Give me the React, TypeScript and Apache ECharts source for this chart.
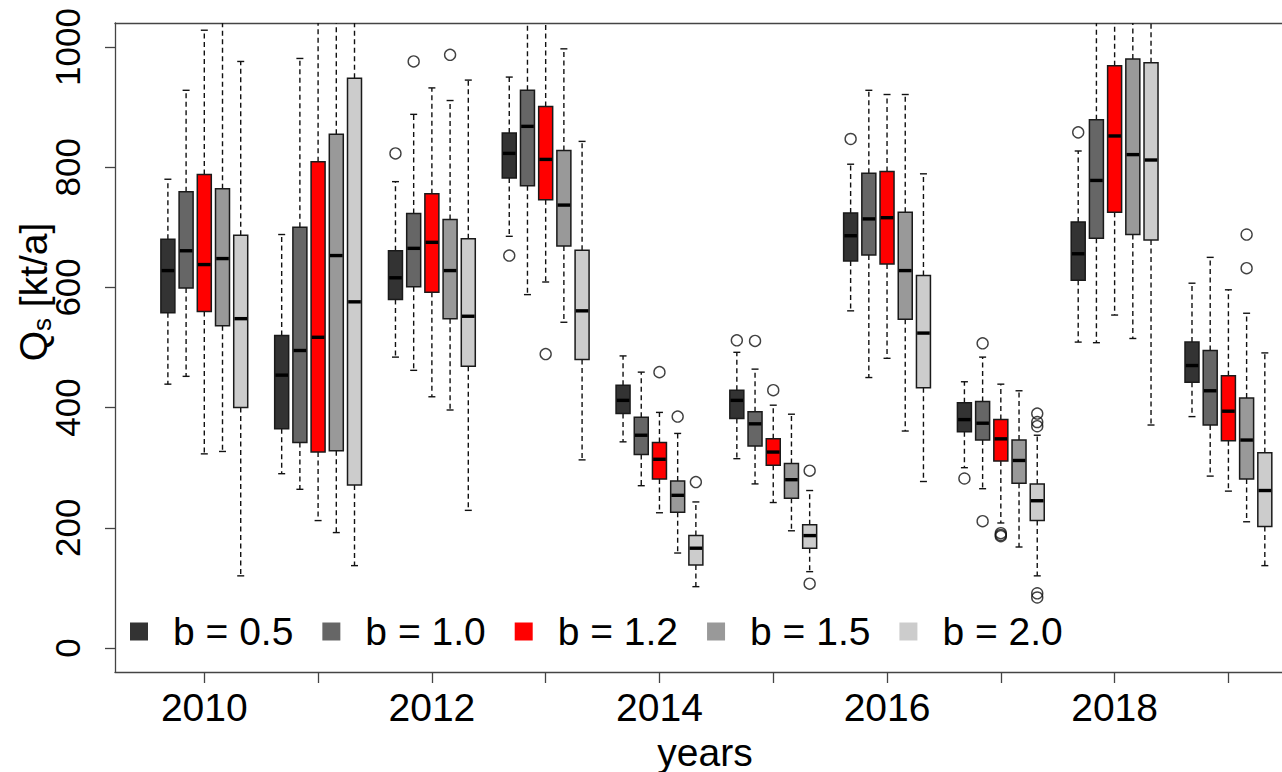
import React, { useEffect, useRef } from "react";
import * as echarts from "echarts";

// ---- data ----
const years = [2010, 2011, 2012, 2013, 2014, 2015, 2016, 2017, 2018, 2019];
const seriesNames = ["b = 0.5", "b = 1.0", "b = 1.2", "b = 1.5", "b = 2.0"];
const seriesColors = ["#333333", "#666666", "#ff0000", "#999999", "#cccccc"];

// per year: [lower whisker, Q1, median, Q3, upper whisker]
const statsB05 = [
  [439, 558, 628, 680, 780],
  [290, 365, 454, 520, 688],
  [484, 580, 616, 661, 776],
  [685, 782, 823, 857, 950],
  [343, 390, 412, 437, 486],
  [315, 382, 412, 429, 492],
  [561, 644, 686, 724, 805],
  [300, 360, 380, 408, 443],
  [509, 612, 656, 709, 827],
  [385, 442, 470, 509, 607],
];
const statsB10 = [
  [452, 599, 661, 759, 928],
  [264, 342, 495, 700, 981],
  [462, 601, 665, 723, 888],
  [588, 769, 868, 928, 1060],
  [270, 322, 354, 384, 459],
  [273, 336, 373, 393, 464],
  [450, 654, 714, 790, 928],
  [265, 346, 374, 410, 484],
  [508, 682, 778, 879, 1080],
  [286, 371, 428, 495, 650],
];
const statsB12 = [
  [323, 560, 638, 788, 1028],
  [212, 326, 517, 809, 1060],
  [418, 592, 675, 756, 932],
  [609, 746, 813, 901, 1070],
  [225, 281, 314, 342, 392],
  [242, 304, 326, 348, 404],
  [482, 639, 716, 793, 921],
  [208, 311, 348, 380, 439],
  [554, 725, 852, 969, 1120],
  [261, 345, 394, 453, 596],
];
const statsB15 = [
  [327, 536, 648, 764, 1090],
  [192, 328, 653, 855, 1100],
  [396, 548, 628, 713, 911],
  [542, 669, 737, 828, 997],
  [158, 226, 254, 278, 357],
  [195, 249, 280, 307, 389],
  [361, 547, 628, 725, 921],
  [168, 274, 312, 346, 428],
  [515, 688, 821, 980, 1150],
  [210, 281, 346, 416, 557],
];
const statsB20 = [
  [120, 400, 548, 687, 976],
  [137, 271, 576, 948, 1150],
  [229, 469, 552, 681, 945],
  [313, 480, 561, 662, 843],
  [102, 138, 166, 187, 243],
  [127, 166, 187, 205, 262],
  [277, 433, 524, 620, 789],
  [120, 212, 245, 273, 354],
  [371, 679, 812, 974, 1150],
  [137, 202, 262, 325, 491],
];

// outliers: [year, value]
const outB05 = [[2012, 823], [2013, 653], [2015, 512], [2016, 847], [2017, 282], [2018, 858]];
const outB10 = [[2012, 976], [2015, 511], [2017, 507], [2017, 211]];
const outB12 = [[2013, 489], [2014, 459], [2015, 429], [2017, 191], [2017, 188], [2017, 186]];
const outB15 = [[2012, 987], [2014, 385], [2019, 688], [2019, 632]];
const outB20 = [[2014, 276], [2015, 295], [2015, 107], [2017, 390], [2017, 376], [2017, 369], [2017, 91], [2017, 84]];

const yTickValues = [0, 200, 400, 600, 800, 1000];
const xTickValues = years;
const xLabelValues = [2010, 2012, 2014, 2016, 2018];

const allStats = [statsB05, statsB10, statsB12, statsB15, statsB20];
const allOutliers = [outB05, outB10, outB12, outB15, outB20];

// ---- layout constants ----
const BOX_STEP = 0.16; // offset between boxes within a year (in years)
const BOX_W = 0.123; // box width (in years)
const FONT = "'Liberation Sans', Arial, Helvetica, sans-serif";

function makeRender(idx: number) {
  return (params: any, api: any) => {
    const xv = api.value(0) + (idx - 2) * BOX_STEP;
    const lo = api.coord([xv, api.value(1)]);
    const q1 = api.coord([xv, api.value(2)]);
    const md = api.coord([xv, api.value(3)]);
    const q3 = api.coord([xv, api.value(4)]);
    const hi = api.coord([xv, api.value(5)]);
    const w = api.size([BOX_W, 0])[0];
    const cx = lo[0];
    const dash = { stroke: "#111", lineWidth: 1.4, lineDash: [5, 3.5] };
    const solid = { stroke: "#111", lineWidth: 1.4 };
    return {
      type: "group",
      children: [
        { type: "line", shape: { x1: cx, y1: q3[1], x2: cx, y2: hi[1] }, style: dash },
        { type: "line", shape: { x1: cx, y1: q1[1], x2: cx, y2: lo[1] }, style: dash },
        { type: "line", shape: { x1: cx - w / 4, y1: hi[1], x2: cx + w / 4, y2: hi[1] }, style: solid },
        { type: "line", shape: { x1: cx - w / 4, y1: lo[1], x2: cx + w / 4, y2: lo[1] }, style: solid },
        {
          type: "rect",
          shape: { x: cx - w / 2, y: q3[1], width: w, height: q1[1] - q3[1] },
          style: { fill: seriesColors[idx], stroke: "#1a1a1a", lineWidth: 1.5 },
        },
        {
          type: "line",
          shape: { x1: cx - w / 2 + 0.7, y1: md[1], x2: cx + w / 2 - 0.7, y2: md[1] },
          style: { stroke: "#000", lineWidth: 3.4 },
        },
      ],
    };
  };
}

export default function App() {
  const ref = useRef<HTMLDivElement>(null);
  useEffect(() => {
    if (!ref.current) return;
    const chart = echarts.init(ref.current, undefined, { renderer: "svg" });

    const boxSeries = allStats.map((stats, i) => ({
      type: "custom",
      name: seriesNames[i],
      xAxisIndex: 0,
      yAxisIndex: 0,
      clip: true,
      itemStyle: { color: seriesColors[i], borderWidth: 0 },
      renderItem: makeRender(i),
      encode: { x: 0, y: [1, 2, 3, 4, 5] },
      data: stats.map((s, k) => [years[k], ...s]),
      z: 2,
    }));
    const outSeries = allOutliers.map((outs, i) => ({
      type: "scatter",
      name: "outliers " + seriesNames[i],
      xAxisIndex: 0,
      yAxisIndex: 0,
      symbol: "circle",
      symbolSize: 11,
      clip: true,
      silent: true,
      itemStyle: { color: "rgba(0,0,0,0)", borderColor: "#111", borderWidth: 1.4 },
      data: outs.map(([yr, v]) => [yr + (i - 2) * BOX_STEP, v]),
      z: 3,
    }));

    const axisLineStyle = { color: "#444", width: 1.3 };
    const xMin = 2009.2152;
    const xMax = 2019.471;

    chart.setOption({
      animation: false,
      backgroundColor: "#ffffff",
      grid: { left: 115, top: 23, right: 0, bottom: 100 },
      legend: {
        data: seriesNames,
        left: 130,
        top: 612,
        padding: 0,
        icon: "rect",
        itemWidth: 18,
        itemHeight: 18,
        itemGap: 29,
        itemStyle: { borderWidth: 0 },
        textStyle: { fontSize: 39, fontFamily: FONT, color: "#000", padding: [0, 0, 0, 20] },
        selectedMode: false,
      },
      xAxis: [
        {
          type: "value",
          min: xMin,
          max: xMax,
          position: "bottom",
          axisLine: { show: true, onZero: false, lineStyle: axisLineStyle },
          axisTick: { show: true, length: 11, lineStyle: axisLineStyle, customValues: xTickValues },
          axisLabel: {
            show: true,
            customValues: xLabelValues,
            formatter: (v: number) => String(Math.round(v)),
            fontSize: 39,
            fontFamily: FONT,
            color: "#000",
            margin: 16,
          },
          splitLine: { show: false },
        },
        {
          type: "value",
          min: xMin,
          max: xMax,
          position: "top",
          axisLine: { show: true, onZero: false, lineStyle: axisLineStyle },
          axisTick: { show: false },
          axisLabel: { show: false },
          splitLine: { show: false },
        },
      ],
      yAxis: {
        type: "value",
        min: -40,
        max: 1040,
        axisLine: { show: true, onZero: false, lineStyle: axisLineStyle },
        axisTick: { show: true, length: 10, lineStyle: axisLineStyle, customValues: yTickValues },
        axisLabel: {
          show: true,
          customValues: yTickValues,
          rotate: 90,
          formatter: (v: number) => String(Math.round(v)),
          fontSize: 35,
          fontFamily: FONT,
          color: "#000",
          margin: 30,
        },
        splitLine: { show: false },
      },
      graphic: [
        {
          type: "text",
          x: 705,
          y: 752,
          style: {
            text: "years",
            font: `39px ${FONT}`,
            fill: "#000",
            textAlign: "center",
            textVerticalAlign: "middle",
            align: "center",
            verticalAlign: "middle",
          },
        },
        {
          type: "text",
          x: 33,
          y: 292,
          rotation: Math.PI / 2,
          style: {
            text: "{n|Q}{s|s}{n| [kt/a]}",
            rich: {
              n: { fontSize: 39, fontFamily: FONT, fill: "#000", color: "#000" },
              s: { fontSize: 26, fontFamily: FONT, fill: "#000", color: "#000", padding: [18, 0, 0, 0] },
            },
            font: `39px ${FONT}`,
            fill: "#000",
            textAlign: "center",
            textVerticalAlign: "middle",
            align: "center",
            verticalAlign: "middle",
          },
        },
      ],
      series: [...boxSeries, ...outSeries],
    });

    return () => chart.dispose();
  }, []);

  return (
    <div
      ref={ref}
      style={{ position: "absolute", left: 0, top: 0, width: 1282, height: 772, background: "#fff" }}
    />
  );
}
